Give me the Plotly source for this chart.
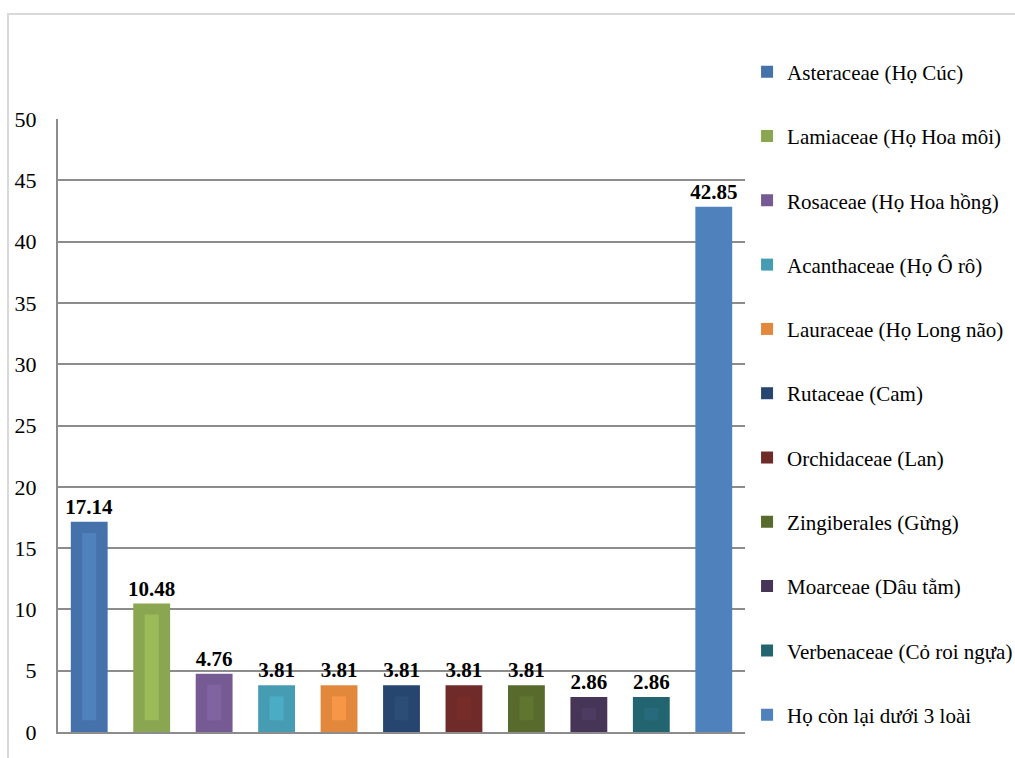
import plotly.graph_objects as go

categories = [
    "Asteraceae (Họ Cúc)",
    "Lamiaceae (Họ Hoa môi)",
    "Rosaceae (Họ Hoa hồng)",
    "Acanthaceae (Họ Ô rô)",
    "Lauraceae (Họ Long não)",
    "Rutaceae (Cam)",
    "Orchidaceae (Lan)",
    "Zingiberales (Gừng)",
    "Moarceae (Dâu tằm)",
    "Verbenaceae (Cỏ roi ngựa)",
    "Họ còn lại dưới 3 loài",
]
values = [17.14, 10.48, 4.76, 3.81, 3.81, 3.81, 3.81, 3.81, 2.86, 2.86, 42.85]
labels = ["17.14", "10.48", "4.76", "3.81", "3.81", "3.81", "3.81", "3.81", "2.86", "2.86", "42.85"]
outer_colors = ["#4672AB", "#8BA650", "#765A93", "#459CB3", "#E2883D", "#264670",
                "#6F2A2A", "#586A2C", "#463556", "#236471", "#4F81BD"]
inner_colors = ["#4F81BD", "#9BBB59", "#8064A2", "#4BACC6", "#F79646", "#2C4D75",
                "#772C2A", "#5F7530", "#4D3B62", "#276A7C", None]

FONT = "Liberation Serif"
INSET_TOP = 0.9
INSET_BOTTOM = 0.95

fig = go.Figure()
for i, (c, v) in enumerate(zip(categories, values)):
    fig.add_trace(go.Bar(
        x=[c], y=[v], name=c, legendgroup=c,
        marker=dict(color=outer_colors[i], line=dict(width=0)),
        width=0.59,
        text=[f"<b>{labels[i]}</b>"], textposition="outside",
        textfont=dict(family=FONT, size=21, color="black"),
        constraintext="none",
        cliponaxis=False,
    ))
for i, (c, v) in enumerate(zip(categories, values)):
    if inner_colors[i] is None:
        continue
    fig.add_trace(go.Bar(
        x=[c], y=[v - INSET_TOP - INSET_BOTTOM], base=[INSET_BOTTOM],
        legendgroup=c, showlegend=False, hoverinfo="skip",
        marker=dict(color=inner_colors[i], line=dict(width=0)),
        width=0.225,
    ))

fig.update_layout(
    width=1015, height=758,
    margin=dict(l=58, r=270, t=119, b=26, autoexpand=False),
    paper_bgcolor="white", plot_bgcolor="white",
    barmode="overlay",
    font=dict(family=FONT, color="black"),
    showlegend=True,
    legend=dict(
        x=1.003, xanchor="left", y=1.11, yanchor="top",
        font=dict(family=FONT, size=21, color="black"),
        tracegroupgap=34, bgcolor="rgba(0,0,0,0)",
        traceorder="grouped", maxheight=2000,
    ),
    xaxis=dict(
        categoryorder="array", categoryarray=categories,
        range=[-0.5, len(categories) - 0.5],
        showticklabels=False, showgrid=False, zeroline=False,
        showline=True, linecolor="#8C8C8C", linewidth=2, ticks="",
    ),
    yaxis=dict(
        range=[0, 50], tickvals=list(range(0, 51, 5)),
        tickfont=dict(family=FONT, size=22, color="black"),
        showgrid=True, gridcolor="#8C8C8C", gridwidth=2,
        zeroline=False, showline=True, linecolor="#8C8C8C", linewidth=2,
        ticks="", ticklabelstandoff=15,
    ),
    shapes=[dict(
        type="rect", xref="paper", yref="paper",
        x0=(8 - 58) / 687, x1=1.6, y0=-0.2, y1=(732 - 14) / 613,
        line=dict(color="#D9D9D9", width=2), fillcolor="rgba(0,0,0,0)",
        layer="below",
    )],
)

fig.write_html("out.html")
